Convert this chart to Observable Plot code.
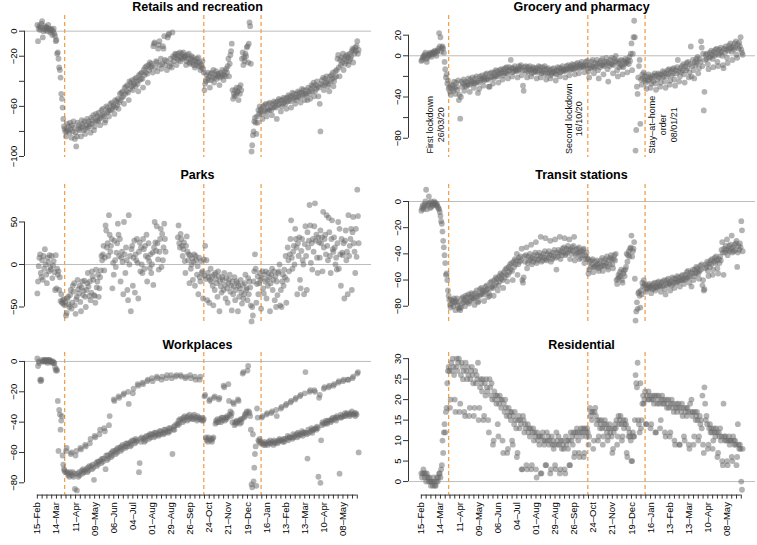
<!DOCTYPE html>
<html>
<head>
<meta charset="utf-8">
<script src="https://cdn.jsdelivr.net/npm/d3@7"></script>
<script src="https://cdn.jsdelivr.net/npm/@observablehq/plot@0.6"></script>
<style>
  body { margin: 0; background: #fff; font-family: "Liberation Sans", Arial, sans-serif; }
  #grid { position: relative; width: 757px; height: 545px; overflow: hidden; }
  #grid svg { position: absolute; }
  .title { position: absolute; font-weight: bold; font-size: 12.5px; transform: translate(-50%, -50%); white-space: nowrap; }
</style>
</head>
<body>
<div id="grid"></div>
<script>
// first day of the series, one value per day from here (rows are Sat..Fri weeks)
const start = new Date(Date.UTC(2020, 1, 15));
const lockdowns = [new Date(Date.UTC(2020, 2, 26)), new Date(Date.UTC(2020, 9, 16)), new Date(Date.UTC(2021, 0, 8))];
const lockdownNotes = ["First lockdown\n26/03/20", "Second lockdown\n16/10/20", "Stay–at–home\norder\n08/01/21"];

const retail = [
  5, -8, 2, 4, 1, 3, 6,
  8, -5, 0, 2, 4, 1, 3,
  3, 0, 5, 2, 1, -1, 2,
  1, -3, 0, 2, -2, -4, -8,
  -7, -18, -17, -22, -29, -31, -37,
  -50, -54, -61, -70, -76, -78, -80,
  -84, -80, -74, -79, -76, -81, -73,
  -78, -85, -75, -80, -72, -77, -86,
  -81, -92, -84, -73, -78, -75, -79,
  -77, -84, -71, -76, -74, -79, -72,
  -82, -78, -75, -70, -77, -72, -76,
  -74, -81, -69, -74, -71, -67, -79,
  -76, -72, -66, -71, -68, -72, -65,
  -70, -75, -69, -63, -67, -62, -68,
  -66, -73, -71, -60, -65, -61, -64,
  -68, -63, -58, -63, -57, -62, -59,
  -60, -66, -55, -61, -56, -59, -54,
  -62, -57, -50, -55, -49, -53, -48,
  -52, -58, -45, -50, -44, -48, -43,
  -49, -55, -40, -46, -41, -44, -39,
  -47, -43, -42, -38, -44, -37, -40,
  -42, -48, -35, -39, -34, -38, -33,
  -38, -45, -31, -35, -29, -33, -28,
  -34, -41, -27, -31, -25, -29, -26,
  -28, -33, -12, -10, -9, -29, -24,
  -25, -32, -14, -11, -8, -27, -22,
  -30, -26, -12, -14, -4, -23, -27,
  -24, -31, -5, -3, -2, -28, -22,
  -26, -29, -1, -20, -24, -21, -18,
  -19, -27, -22, -18, -23, -20, -17,
  -24, -21, -18, -22, -17, -21, -20,
  -20, -27, -24, -19, -22, -18, -25,
  -26, -22, -20, -25, -21, -27, -23,
  -29, -24, -27, -22, -25, -21, -28,
  -25, -31, -27, -29, -24, -30, -33,
  -47, -42, -40, -35, -38, -33, -39,
  -36, -45, -34, -39, -33, -37, -31,
  -41, -37, -35, -32, -38, -34, -36,
  -34, -43, -37, -33, -36, -31, -35,
  -39, -35, -32, -36, -30, -33, -28,
  -22, -36, -26, -19, -16, -10, -47,
  -54, -50, -52, -47, -51, -45, -49,
  -48, -55, -45, -50, -43, -47, -22,
  -17, -27, -21, -24, -18, -20, -13,
  -12, -25, -10, 7, 4, -26, -96,
  -91, -83, -80, -72, -69, -73, -82,
  -68, -73, -63, -66, -60, -64, -62,
  -66, -70, -60, -64, -59, -63, -58,
  -68, -64, -62, -58, -63, -57, -61,
  -63, -67, -58, -61, -56, -60, -57,
  -61, -70, -56, -59, -54, -58, -55,
  -64, -60, -55, -58, -53, -57, -54,
  -58, -62, -53, -56, -51, -55, -52,
  -56, -61, -52, -49, -54, -50, -53,
  -58, -55, -50, -53, -48, -52, -49,
  -53, -57, -49, -46, -51, -47, -50,
  -55, -51, -47, -50, -55, -45, -48,
  -50, -54, -46, -43, -48, -44, -41,
  -52, -48, -43, -46, -40, -44, -52,
  -45, -58, -80, -42, -39, -43, -37,
  -47, -43, -38, -41, -36, -40, -44,
  -42, -48, -36, -40, -35, -38, -33,
  -44, -40, -37, -32, -36, -31, -22,
  -19, -29, -36, -23, -27, -21, -25,
  -18, -31, -22, -26, -20, -24, -19,
  -21, -27, -24, -18, -22, -20, -16,
  -14, -25, -15, -18, -13, -16, -12,
  -8, -18, -15
];

const grocery = [
  -5, -4, -2, 0, -1, 1, 3,
  -3, -6, -2, 1, 0, 2, 3,
  1, -1, 2, 3, 4, 2, 5,
  3, 0, 4, 5, 7, 22, 9,
  18, 4, 8, 9, 7, 3, -6,
  -13, -21, -18, -27, -24, -32, -30,
  -35, -38, -28, -32, -29, -34, -25,
  -31, -37, -26, -30, -33, -24, -43,
  -38, -61, -40, -25, -30, -27, -23,
  -34, -29, -25, -30, -26, -28, -22,
  -28, -35, -23, -27, -25, -21, -26,
  -31, -27, -22, -26, -20, -25, -36,
  -26, -32, -20, -24, -22, -19, -23,
  -29, -24, -21, -18, -23, -17, -22,
  -23, -30, -30, -17, -21, -16, -20,
  -27, -22, -16, -20, -14, -19, -15,
  -20, -26, -18, -14, -17, -13, -16,
  -23, -19, -13, -17, -12, -16, -11,
  -17, -22, -15, -11, -14, -4, -12,
  -20, -16, -12, -15, -10, -14, -13,
  -15, -21, -14, -10, -13, -11, -9,
  -19, -14, -29, -34, -11, -14, -10,
  -16, -21, -11, -15, -13, -10, -14,
  -20, -17, -13, -11, -16, -12, -15,
  -15, -22, -12, -16, -10, -14, -11,
  -21, -17, -15, -11, -16, -13, -10,
  -18, -23, -13, -17, -12, -16, -14,
  -22, -19, -17, -13, -16, -12, -15,
  -17, -24, -18, -14, -11, -15, -12,
  -20, -16, -12, -15, -10, -14, -13,
  -15, -21, -14, -10, -13, -9, -12,
  -19, -14, -10, -13, -8, -12, -9,
  -13, -18, -12, -8, -11, -7, -10,
  -17, -12, -8, -11, -6, -10, -9,
  -11, -16, -10, -6, -9, -5, -12,
  -15, -21, -9, -12, -6, -10, -4,
  -11, -17, -12, -7, -10, -4, -8,
  -14, -22, -7, -11, -5, -9, -3,
  -9, -18, -10, -6, -8, -2, -6,
  -13, -25, -7, -10, -4, -8, -2,
  -8, -17, -9, -3, -6, 0, -5,
  -14, -20, -7, -11, -5, -9, -4,
  -10, -18, -11, -5, -8, -3, -6,
  -7, -16, -4, -8, -1, -5, 2,
  12, -14, 2, 18, 34, 18, -92,
  -72, -30, -37, -21, -10, -4, -66,
  -23, -28, -18, -22, -16, -20, -24,
  -26, -32, -20, -24, -18, -23, -21,
  -31, -27, -22, -19, -25, -20, -17,
  -27, -33, -19, -23, -17, -21, -18,
  -30, -26, -18, -21, -15, -20, -16,
  -25, -31, -17, -20, -14, -18, -13,
  -28, -24, -15, -19, -13, -17, -12,
  -23, -29, -14, -17, -11, -4, -15,
  -25, -20, -12, -16, -10, -14, -8,
  -18, -26, -10, -14, -7, -12, -6,
  -21, -16, -8, 9, -20, -10, -4,
  -14, -22, -6, -9, -3, -7, -1,
  -17, -12, -3, -6, 14, 8, -10,
  2, -53, -35, -4, 1, -3, 2,
  -8, -13, -2, 3, -1, 5, 1,
  -3, -11, 4, 0, 6, 2, 7,
  -6, -10, 1, 6, 3, 8, 4,
  0, -9, -12, 7, 3, 9, 6,
  -2, -7, 5, 10, 7, 12, 8,
  4, -4, 9, 6, 12, 8, 14,
  1, -2, 11, 7, 13, 9, 18,
  6, 3, 1
];

const parks = [
  -34, -20, -2, 8, 12, -10, -15,
  5, -18, 10, -5, 18, 0, -12,
  -22, 8, 3, -8, 11, -3, -6,
  10, -16, -1, 4, -9, -30, 11,
  -28, -5, -12, -8, -30, -15, -43,
  -35, -45, -42, -46, -41, -48, -44,
  -60, -57, -40, -38, -47, -50, -36,
  -30, -52, -45, -25, -32, -22, -48,
  -58, -41, -38, -18, -29, -34, -25,
  -44, -55, -27, -20, -36, -31, -19,
  -38, -50, -30, -22, -10, -26, -37,
  -20, -42, -33, -8, -14, -18, -36,
  -37, -45, -6, -27, -20, -12, -38,
  -28, -15, -7, 10, 5, 12, 22,
  -7, 8, 46, 40, 20, 25, 10,
  58, 35, 15, 22, 30, -28, 2,
  -12, 28, 5, -3, 14, 25, 48,
  35, 10, 30, -20, 8, 15, 3,
  -35, 50, 12, -10, 20, 5, -30,
  -42, 58, 0, 10, -55, 18, 22,
  -25, 8, 28, -33, 12, 5, 30,
  2, -40, 15, 26, -8, 20, 0,
  -10, 30, 18, -5, 22, 10, 35,
  -20, 8, 25, 4, -4, 12, -10,
  0, 14, -24, 20, 50, 26, 16,
  45, 25, 6, -6, 15, 30, 42,
  -3, 36, 5, 20, 48, 30, 15,
  null, null, null, null, null, null, null,
  null, null, null, null, null, null, null,
  null, null, null, 32, 46, 25, 20,
  36, 30, 22, 10, 18, 26, 4,
  -10, 22, 33, 15, 5, 12, -22,
  11, -5, 0, 7, -18, 3, 12,
  -25, 10, 5, -12, -2, -35, 8,
  -15, -20, 4, -10, -8, -40, 6,
  -13, 22, -17, 5, -42, -10, -15,
  -45, -18, -5, -20, -14, -25, -48,
  -12, -30, -10, -17, -22, -38, -8,
  -14, -55, -20, -26, -33, -15, -18,
  -30, -10, -24, -40, -16, -28, -45,
  -22, -18, -12, -32, -25, -54, -20,
  -35, -26, -15, -42, -30, -20, -22,
  -55, -25, -38, -28, -18, -33, -46,
  -24, -40, -35, -22, -12, -30, -28,
  -42, -16, -35, -20, -27, -48, -67,
  -50, -60, -20, -8, 12, -5, -45,
  -23, -14, -35, -22, -10, -18, -52,
  -16, -8, -28, -34, -12, -20, -8,
  -40, -18, -25, -10, -15, -55, -22,
  -12, -5, -30, -18, -8, -42, -14,
  -50, -20, -36, -10, -8, 0, -48,
  -30, -50, -20, -12, -25, -6, -15,
  10, -45, -18, 20, 5, -8, 12,
  30, 52, 8, -5, 15, 22, 0,
  42, 30, 20, -35, 25, 10, 32,
  -18, -28, 16, 30, 5, 0, -35,
  24, 45, 10, -30, 38, 20, 28,
  70, 46, 2, 25, -6, 30, 15,
  45, 72, 28, 35, 8, -10, 32,
  26, 8, 40, 25, 32, -8, 62,
  20, 30, 35, 12, 58, 22, 5,
  55, 38, 10, -10, 30, 52, 18,
  15, 32, 20, 0, 8, -6, 25,
  50, -5, 42, 12, -25, 30, 14,
  11, 25, -40, 28, 40, 5, 15,
  -35, 58, 10, 22, 30, 42, -30,
  38, 56, 25, 15, -10, 42, 9,
  88, 57, 25
];

const transit = [
  -7, -5, -3, -6, -4, -2, 0,
  9, -6, -3, -2, 4, -1, -5,
  0, -4, -2, -3, -1, 0, -2,
  -1, -3, -2, -4, -5, -6, -8,
  -11, -15, -17, -23, -30, -35, -41,
  -47, -56, -55, -60, -68, -72, -75,
  -79, -81, -75, -78, -76, -80, -74,
  -77, -83, -76, -74, -79, -77, -82,
  -81, -83, -81, -74, -78, -73, -77,
  -75, -80, -72, -76, -73, -77, -71,
  -78, -76, -73, -70, -74, -71, -75,
  -74, -79, -70, -73, -68, -72, -77,
  -76, -72, -67, -71, -66, -70, -68,
  -71, -76, -69, -65, -68, -64, -67,
  -73, -70, -72, -62, -66, -61, -65,
  -66, -72, -60, -64, -58, -62, -59,
  -68, -64, -57, -61, -55, -59, -56,
  -60, -66, -54, -58, -52, -56, -51,
  -61, -56, -50, -54, -48, -52, -47,
  -53, -60, -46, -50, -44, -48, -45,
  -40, -56, -48, -43, -46, -42, -45,
  -36, -60, -62, -58, -42, -46, -41,
  -35, -51, -47, -42, -45, -40, -44,
  -33, -48, -43, -46, -41, -44, -39,
  -31, -47, -45, -41, -44, -39, -42,
  -27, -46, -42, -45, -40, -43, -38,
  -28, -44, -45, -40, -43, -38, -41,
  -30, -46, -41, -44, -39, -42, -37,
  -29, -43, -52, -39, -42, -37, -40,
  -27, -44, -38, -41, -36, -39, -35,
  -28, -41, -40, -36, -39, -34, -37,
  -29, -44, -37, -40, -35, -38, -34,
  -27, -45, -41, -37, -40, -36, -39,
  -35, -44, -39, -43, -38, -41, -37,
  -36, -47, -41, -44, -39, -43, -44,
  -55, -52, -46, -50, -45, -48, -44,
  -54, -50, -50, -46, -49, -45, -48,
  -51, -53, -47, -50, -45, -49, -43,
  -53, -49, -46, -49, -44, -47, -42,
  -50, -52, -45, -48, -43, -41, -44,
  -48, -51, -44, -41, -45, -40, -60,
  -63, -59, -56, -58, -54, -57, -52,
  -60, -62, -55, -53, -57, -52, -50,
  -40, -46, -41, -38, -42, -36, -35,
  -26, -42, -38, -36, -31, -59, -91,
  -84, -77, -82, -70, -69, -72, -81,
  -68, -71, -62, -65, -60, -64, -63,
  -69, -66, -67, -64, -66, -63, -65,
  -66, -70, -64, -67, -63, -66, -62,
  -68, -65, -66, -62, -65, -61, -64,
  -65, -69, -62, -65, -61, -64, -60,
  -67, -71, -63, -60, -64, -59, -62,
  -63, -68, -61, -64, -58, -62, -59,
  -66, -62, -59, -62, -57, -61, -58,
  -61, -65, -60, -57, -60, -56, -59,
  -63, -60, -56, -59, -54, -58, -53,
  -58, -62, -57, -54, -65, -55, -52,
  -60, -57, -52, -55, -50, -54, -51,
  -55, -59, -53, -49, -52, -48, -64,
  -60, -68, -67, -51, -48, -50, -46,
  -53, -57, -47, -50, -45, -48, -44,
  -56, -52, -46, -43, -47, -42, -45,
  -51, -55, -44, -47, -42, -45, -37,
  -31, -39, -56, -36, -39, -34, -37,
  -29, -41, -37, -34, -38, -33, -36,
  -26, -39, -35, -38, -33, -37, -32,
  -30, -50, -39, -34, -37, -32, -35,
  -15, -22, -38
];

const workplaces = [
  2, -3, 0, -1, -12, -13, -12,
  1, 0, 0, 1, 0, 1, 0,
  1, -1, 0, 1, 1, 0, 0,
  0, -1, 0, -1, -1, -4, -6,
  -5, -6, -26, -59, -32, -35, -45,
  -39, -36, -62, -68, -71, -72, -73,
  -59, -57, -73, -75, -74, -76, -73,
  -61, -60, -75, -73, -76, -74, -84,
  -62, -59, -85, -74, -76, -73, -75,
  -57, -58, -72, -74, -71, -73, -72,
  -55, -56, -71, -73, -70, -72, -69,
  -54, -51, -69, -71, -68, -70, -78,
  -49, -50, -67, -69, -66, -68, -66,
  -48, -45, -65, -67, -64, -66, -64,
  -44, -46, -71, -62, -65, -62, -64,
  -42, -36, -61, -63, -60, -62, -59,
  -25, -26, -59, -61, -58, -60, -57,
  -23, -24, -57, -59, -56, -58, -55,
  -22, -21, -56, -57, -54, -56, -54,
  -20, -28, -54, -56, -53, -55, -52,
  -21, -18, -52, -54, -51, -53, -52,
  -15, -16, -73, -67, -51, -53, -50,
  -14, -15, -51, -53, -50, -52, -49,
  -13, -12, -49, -51, -48, -50, -48,
  -11, -13, -48, -50, -47, -49, -47,
  -10, -11, -48, -49, -46, -48, -46,
  -12, -10, -47, -48, -45, -47, -45,
  -11, -9, -46, -47, -44, -46, -44,
  -9, -11, -61, -45, -43, -45, -42,
  -10, -9, -41, -42, -39, -41, -38,
  -9, -10, -38, -40, -37, -39, -36,
  -11, -10, -37, -39, -36, -38, -35,
  -9, -11, -37, -38, -36, -38, -35,
  -10, -12, -37, -39, -36, -38, -37,
  -12, -10, -38, -39, -37, -39, -38,
  -23, -22, -50, -52, -51, -53, -50,
  -26, -25, -52, -51, -53, -51, -50,
  -24, -23, -41, -39, -40, -38, -40,
  -25, -24, -38, -40, -37, -39, -37,
  -16, -17, -39, -37, -38, -36, -37,
  -15, -26, -35, -33, -36, -34, -40,
  -27, -28, -42, -40, -41, -39, -40,
  -25, -26, -39, -41, -38, -40, -38,
  -8, -7, -37, -35, -36, -34, -33,
  -6, -3, -33, -34, -36, -45, -81,
  -83, -48, -79, -70, -61, -56, -82,
  -31, -37, -52, -53, -51, -54, -53,
  -37, -36, -54, -55, -53, -55, -54,
  -35, -34, -55, -53, -54, -52, -54,
  -34, -33, -53, -55, -52, -54, -53,
  -32, -36, -54, -52, -53, -51, -52,
  -31, -30, -52, -53, -51, -53, -51,
  -29, -28, -51, -49, -52, -50, -50,
  -27, -26, -50, -51, -48, -50, -49,
  -25, -24, -48, -50, -47, -49, -48,
  -23, -22, -48, -46, -49, -47, -47,
  -21, -7, -47, -48, -64, -45, -47,
  -20, -19, -46, -44, -47, -45, -45,
  -19, -20, -44, -45, -43, -44, -76,
  -24, -22, -80, -52, -42, -40, -41,
  -18, -17, -41, -39, -40, -41, -39,
  -17, -16, -39, -40, -38, -39, -37,
  -16, -15, -38, -37, -39, -36, -37,
  -14, -13, -74, -37, -35, -37, -36,
  -13, -12, -36, -34, -36, -35, -34,
  -12, -12, -35, -36, -34, -35, -33,
  -11, -10, -35, -34, -36, -34, -35,
  -8, -7, -60
];

const residential = [
  2, 1, 2, 3, 2, 1, 2,
  0, 2, 1, 1, 0, 1, 0,
  -1, 0, 0, -1, 1, 0, -1,
  -1, 0, 1, 0, 1, 2, 2,
  1, 3, 4, 10, 7, 12, 14,
  12, 17, 18, 24, 27, 28, 27,
  18, 20, 29, 27, 30, 28, 26,
  20, 17, 28, 30, 27, 29, 30,
  17, 19, 26, 29, 28, 25, 27,
  17, 16, 29, 27, 25, 28, 26,
  16, 18, 25, 27, 28, 26, 24,
  16, 18, 27, 24, 26, 25, 29,
  15, 18, 23, 25, 24, 22, 25,
  15, 16, 24, 21, 25, 23, 22,
  15, 12, 25, 23, 21, 24, 20,
  9, 10, 22, 20, 21, 19, 21,
  14, 11, 19, 21, 20, 18, 20,
  10, 7, 19, 17, 20, 18, 16,
  7, 8, 18, 16, 17, 15, 17,
  10, 9, 16, 14, 17, 15, 13,
  6, 7, 15, 16, 13, 15, 14,
  3, 3, 16, 15, 12, 14, 13,
  4, 3, 14, 12, 13, 11, 13,
  3, 4, 12, 13, 10, 12, 11,
  3, 1, 12, 10, 11, 9, 11,
  2, 2, 11, 12, 10, 9, 10,
  4, 4, 12, 10, 11, 9, 10,
  2, 3, 11, 9, 10, 8, 9,
  4, 3, 12, 10, 9, 11, 9,
  2, 3, 10, 8, 10, 9, 8,
  3, 2, 11, 9, 10, 8, 10,
  4, 4, 12, 10, 11, 9, 12,
  6, 7, 12, 11, 13, 12, 10,
  7, 6, 12, 13, 11, 12, 13,
  6, 7, 13, 12, 11, 13, 12,
  9, 11, 18, 16, 17, 15, 17,
  8, 10, 17, 18, 16, 14, 15,
  10, 11, 15, 13, 14, 15, 13,
  9, 11, 14, 15, 13, 14, 12,
  10, 11, 13, 14, 12, 13, 11,
  7, 8, 12, 13, 14, 13, 15,
  9, 11, 16, 14, 15, 16, 14,
  10, 11, 15, 13, 14, 15, 14,
  7, 6, 13, 11, 12, 11, 10,
  5, 5, 12, 11, 11, 15, 26,
  24, 23, 29, 15, 14, 12, 24,
  13, 15, 19, 21, 19, 20, 22,
  14, 14, 21, 20, 22, 20, 21,
  13, 14, 20, 21, 20, 19, 21,
  12, 12, 21, 19, 20, 21, 19,
  13, 15, 20, 21, 19, 20, 19,
  12, 11, 20, 18, 19, 20, 18,
  11, 12, 19, 20, 18, 19, 17,
  10, 9, 18, 19, 17, 18, 19,
  9, 9, 18, 17, 19, 16, 18,
  11, 10, 17, 18, 16, 18, 17,
  9, 8, 19, 17, 20, 16, 17,
  9, 11, 17, 15, 16, 17, 15,
  10, 11, 16, 14, 15, 13, 21,
  9, 7, 23, 19, 15, 16, 14,
  8, 9, 13, 14, 12, 13, 12,
  8, 10, 13, 12, 11, 13, 12,
  6, 7, 12, 11, 13, 10, 11,
  5, 4, 19, 11, 10, 11, 10,
  5, 4, 10, 11, 9, 10, 10,
  6, 5, 11, 10, 9, 10, 9,
  4, 6, 14, 9, 8, 9, 8,
  0, -2, 8
];

const panels = [
  {title: "Retails and recreation", values: retail, col: 0, row: 0, domain: [-100.8, 12.5], ticks: [0, -20, -40, -60, -80, -100], labels: [0, -20, -60, -100]},
  {title: "Grocery and pharmacy", values: grocery, col: 1, row: 0, domain: [-98.7, 39.1], ticks: [20, 0, -20, -40, -60, -80], labels: [20, 0, -40, -80], notes: true},
  {title: "Parks", values: parks, col: 0, row: 1, domain: [-69.4, 94.1], ticks: [50, 0, -50], labels: [50, 0, -50]},
  {title: "Transit stations", values: transit, col: 1, row: 1, domain: [-93.2, 13], ticks: [0, -20, -40, -60, -80], labels: [0, -20, -40, -60, -80]},
  {title: "Workplaces", values: workplaces, col: 0, row: 2, domain: [-88.1, 5.9], ticks: [0, -20, -40, -60, -80], labels: [0, -20, -40, -60, -80]},
  {title: "Residential", values: residential, col: 1, row: 2, domain: [-3.3, 31.5], ticks: [0, 5, 10, 15, 20, 25, 30], labels: [0, 5, 10, 15, 20, 25, 30]}
];

// where the note about each lockdown line sits (y in grocery units, dx in px)
const notePlacement = [{y: -67, dx: -13.5}, {y: -61, dx: -14.3}, {y: -67, dx: 17.3}];

const cols = [
  {left: 0, width: 378, ml: 24, mr: 7},
  {left: 378, width: 379, ml: 30, mr: 2}
];
const rows = [
  {top: 0, height: 165, mt: 15, mb: 8, titleY: 7, axis: false},
  {top: 165, height: 165, mt: 19, mb: 7, titleY: 175, axis: false},
  {top: 330, height: 215, mt: 22, mb: 50.4, titleY: 345, axis: true}
];

const DAY = 864e5;
const nDays = retail.length;
const pad = (nDays - 1) * 0.04;
const xDomain = [new Date(+start - pad * DAY), new Date(+start + (nDays - 1 + pad) * DAY)];
const weekTicks = d3.range(0, nDays - 1, 7).map(i => d3.utcDay.offset(start, i));
const fmtDay = d3.utcFormat("%d"), fmtMon = d3.utcFormat("%b");
const dateLabel = d => Math.round((d - start) / DAY) % 28 === 0 ? `${fmtDay(d)}–${fmtMon(d)}` : "";
const numLabel = v => v < 0 ? `−${-v}` : `${v}`;

const grid = d3.select("#grid");

panels.forEach(p => {
  const c = cols[p.col], r = rows[p.row];
  const data = p.values.map((v, i) => ({date: d3.utcDay.offset(start, i), value: v}));

  const marks = [
    Plot.ruleY([0], {stroke: "#bdbdbd", strokeWidth: 1}),
    Plot.ruleX(lockdowns, {stroke: "#f5a04a", strokeWidth: 1.3, strokeDasharray: "4,3"}),
    Plot.dot(data, {x: "date", y: "value", r: 2.9, fill: "#676767", fillOpacity: 0.5}),
    Plot.ruleX([xDomain[0]], {y1: d3.min(p.ticks), y2: d3.max(p.ticks), stroke: "#333"}),
    Plot.axisY({
      ticks: p.ticks,
      tickFormat: v => p.labels.includes(v) ? numLabel(v) : "",
      tickRotate: -90, tickSize: 5, tickPadding: 3,
      stroke: "#333", label: null, fontSize: 9.5
    })
  ];

  if (r.axis) {
    marks.push(
      Plot.ruleY([p.domain[0]], {x1: weekTicks[0], x2: weekTicks[weekTicks.length - 1], stroke: "#333"}),
      Plot.axisX({
        ticks: weekTicks, tickFormat: dateLabel,
        tickRotate: -90, tickSize: 4, tickPadding: 3,
        stroke: "#333", label: null, fontSize: 9.5
      })
    );
  }

  if (p.notes) {
    lockdownNotes.forEach((txt, i) => {
      marks.push(Plot.text([{date: lockdowns[i], y: notePlacement[i].y, text: txt}], {
        x: "date", y: "y", text: "text", rotate: -90, dx: notePlacement[i].dx,
        textAnchor: "middle", lineAnchor: "middle", fontSize: 9, lineHeight: 1.22, fill: "#111"
      }));
    });
  }

  const chart = Plot.plot({
    width: c.width,
    height: r.height,
    marginLeft: c.ml,
    marginRight: c.mr,
    marginTop: r.mt,
    marginBottom: r.mb,
    x: {type: "utc", domain: xDomain, axis: null},
    y: {domain: p.domain, label: null},
    style: {fontFamily: "'Liberation Sans', Arial, sans-serif", fontSize: "9.5px", background: "transparent", overflow: "visible"},
    marks
  });

  d3.select(chart).style("left", c.left + "px").style("top", r.top + "px");
  grid.append(() => chart);

  grid.append("div")
    .attr("class", "title")
    .style("left", (c.left + c.ml + (c.width - c.ml - c.mr) / 2) + "px")
    .style("top", r.titleY + "px")
    .text(p.title);
});
</script>
</body>
</html>
